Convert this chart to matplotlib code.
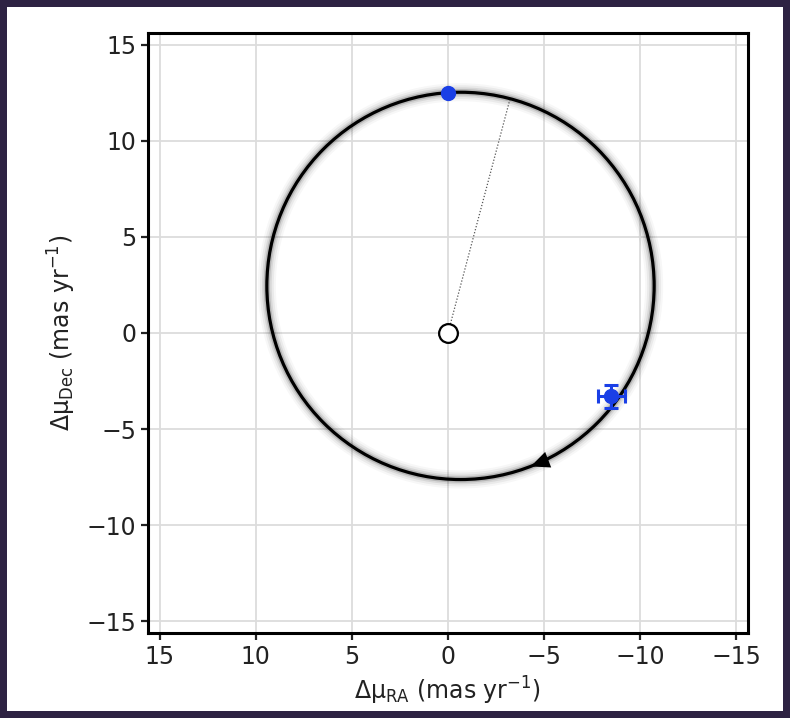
import matplotlib.pyplot as plt
from matplotlib.patches import Rectangle, Circle

## chart values
# orbit of the companion's proper-motion offset (centre and radius, mas/yr)
orbitCentre = (-0.65, 2.45)
orbitRadius = 10.07

# current predicted position (top of the orbit)
predRA = [0.0]
predDec = [12.5]

# measured offset with uncertainties
measRA = [-8.5]
measDec = [-3.28]
measErrRA = [0.72]
measErrDec = [0.6]

# end point of the dotted line from the origin
lineRA = [0.0, -3.22]
lineDec = [0.0, 12.15]

# direction arrow along the orbit (point on the tangent behind it, then the tip)
arrowRA = [-6.16, -4.3]
arrowDec = [-6.22, -6.94]

tickVals = [-15, -10, -5, 0, 5, 10, 15]
axLim = 15.6

fntSize = 17
plt.rcParams['xtick.labelsize'] = fntSize
plt.rcParams['ytick.labelsize'] = fntSize

fig = plt.figure(figsize=(7.9, 7.18), dpi=100)
fig.patch.set_facecolor('#2e2243')
fig.add_artist(Rectangle((7/790, 7/718), 776/790, 704/718, transform=fig.transFigure,
                         facecolor='white', edgecolor='none', zorder=0))

ax = fig.add_axes([148/790, 85/718, 600/790, 600/718])

# orbit with a soft halo of uncertainty
for lw, al in [(13, 0.03), (10, 0.05), (7, 0.08), (4.5, 0.15)]:
    ax.add_patch(Circle(orbitCentre, orbitRadius, fill=False, edgecolor='black',
                        lw=lw, alpha=al, zorder=2))
ax.add_patch(Circle(orbitCentre, orbitRadius, fill=False, edgecolor='black', lw=2.3, zorder=3))

ax.plot(lineRA, lineDec, color='#555555', lw=0.9, linestyle=(0, (1, 1.5)), zorder=2)

ax.annotate('', xy=(arrowRA[1], arrowDec[1]), xytext=(arrowRA[0], arrowDec[0]),
            arrowprops=dict(arrowstyle='-|>,head_length=0.9,head_width=0.4', color='black',
                            lw=0, mutation_scale=15, shrinkA=0, shrinkB=0), zorder=4)

ax.plot(0, 0, marker='o', markersize=13.5, markerfacecolor='white',
        markeredgecolor='black', markeredgewidth=1.6, zorder=5)
ax.plot(predRA, predDec, marker='o', markersize=10, color='#1a3fe6', linestyle='none', zorder=5)
ax.errorbar(measRA, measDec, xerr=measErrRA, yerr=measErrDec, fmt='o', markersize=10,
            color='#1a3fe6', ecolor='#1a3fe6', elinewidth=2.2, capsize=5, capthick=2.2, zorder=5)

ax.set_xlim(axLim, -axLim)
ax.set_ylim(-axLim, axLim)
ax.set_xticks(tickVals)
ax.set_yticks(tickVals)
ax.grid(color='#dcdcdc', lw=1.3, zorder=0)
ax.set_axisbelow(True)
for sp in ax.spines.values():
    sp.set_linewidth(2.2)
ax.tick_params(width=1.6, length=5, colors='#222222')

ax.set_xlabel(r'Δμ$_{\rm RA}$ (mas yr$^{-1}$)', fontsize=fntSize, color='#222222', labelpad=4)
ax.set_ylabel(r'Δμ$_{\rm Dec}$ (mas yr$^{-1}$)', fontsize=fntSize, color='#222222', labelpad=6)

fig.savefig('out.png', dpi=100, facecolor=fig.get_facecolor())
plt.close(fig)
